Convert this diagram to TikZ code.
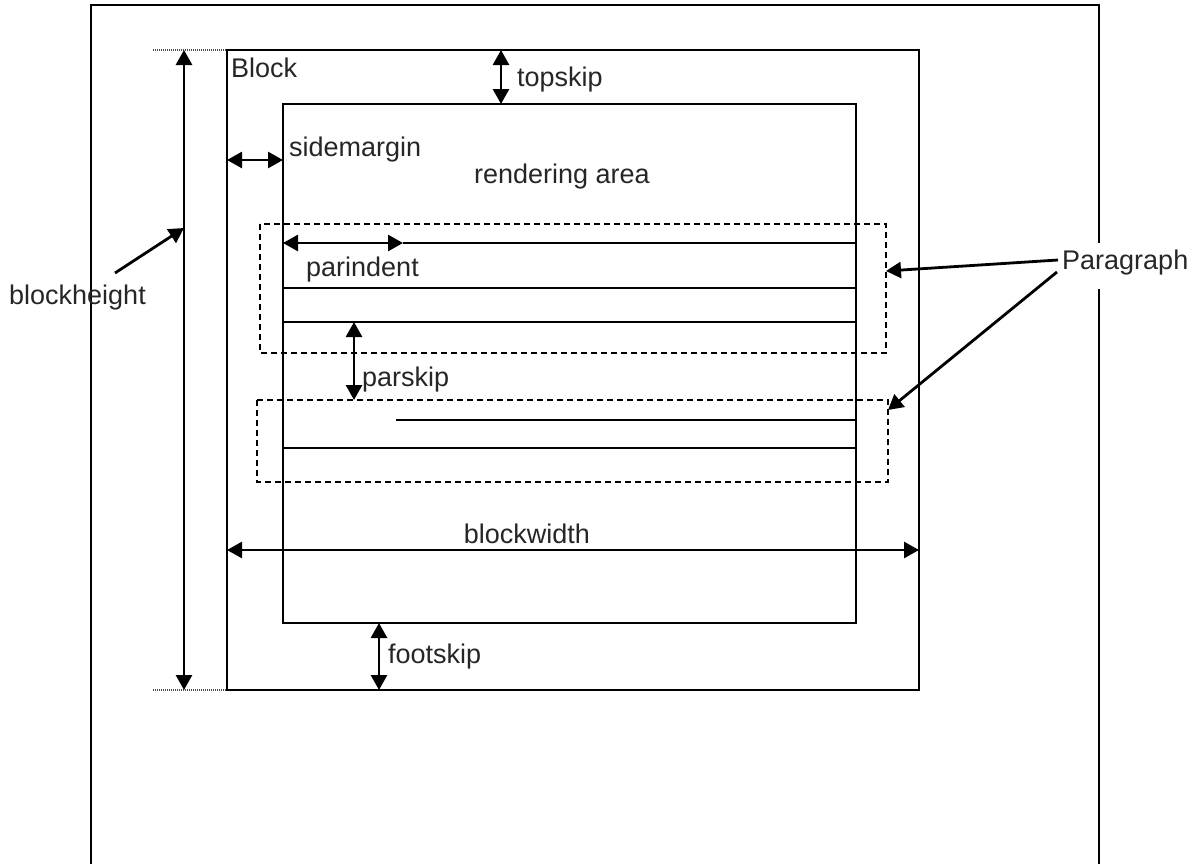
\documentclass[tikz,border=0pt]{standalone}
\usepackage{fontspec}
\setmainfont{Liberation Sans}
\usetikzlibrary{arrows.meta}
\begin{document}
\begin{tikzpicture}[x=1pt,y=-1pt,
  page/.style={line width=2.2pt},
  frame/.style={line width=1.8pt},
  textline/.style={line width=1.8pt},
  dim/.style={line width=2.8pt,{Triangle[length=15pt,width=16pt]}-{Triangle[length=15pt,width=16pt]}},
  ptr/.style={line width=2.8pt,-{Triangle[length=15pt,width=16pt]}},
  parbox/.style={line width=1.8pt,dash pattern=on 6pt off 4pt},
  guide/.style={line width=1.2pt,black!70,dash pattern=on 1pt off 1pt},
  lbl/.style={font=\fontsize{27}{31}\selectfont,inner sep=0pt,text=black!85}]
\useasboundingbox (0,0) rectangle (1195,863);

% page outline (runs off the bottom, broken by the Paragraph label)
\coordinate (pgBL) at (91,870);
\coordinate (pgTL) at (91,5);
\coordinate (pgTR) at (1099,5);
\coordinate (pgRgapTop) at (1099,243);
\coordinate (pgRgapBot) at (1099,289);
\coordinate (pgBR) at (1099,870);
\draw[page] (pgBL) -- (pgTL) -- (pgTR) -- (pgRgapTop);
\draw[page] (pgRgapBot) -- (pgBR);

% block and rendering area
\coordinate (blkTL) at (227,50);
\coordinate (blkBR) at (919,690);
\coordinate (rndTL) at (283,104);
\coordinate (rndBR) at (856,623);
\draw[frame] (blkTL) rectangle (blkBR);
\draw[frame] (rndTL) rectangle (rndBR);

% guide lines for the block height
\coordinate (gTop) at (153,50);
\coordinate (gBot) at (153,690);
\coordinate (gTopEnd) at (227,50);
\coordinate (gBotEnd) at (227,690);
\draw[guide] (gTop) -- (gTopEnd);
\draw[guide] (gBot) -- (gBotEnd);

% first paragraph
\coordinate (l1a) at (403,243);
\coordinate (l1b) at (856,243);
\coordinate (l2a) at (283,288);
\coordinate (l2b) at (856,288);
\coordinate (l3a) at (283,322);
\coordinate (l3b) at (856,322);
\draw[textline] (l1a) -- (l1b);
\draw[textline] (l2a) -- (l2b);
\draw[textline] (l3a) -- (l3b);
\coordinate (p1TL) at (260,224);
\coordinate (p1BR) at (886,353);
\draw[parbox] (p1TL) rectangle (p1BR);

% second paragraph
\coordinate (l4a) at (396,420);
\coordinate (l4b) at (856,420);
\coordinate (l5a) at (283,448);
\coordinate (l5b) at (856,448);
\draw[textline] (l4a) -- (l4b);
\draw[textline] (l5a) -- (l5b);
\coordinate (p2TL) at (257,400);
\coordinate (p2BR) at (888,482);
\draw[parbox] (p2TL) rectangle (p2BR);

% dimension arrows
\coordinate (bhTop) at (184,50);
\coordinate (bhBot) at (184,690);
\draw[dim] (bhTop) -- (bhBot);

\coordinate (tsTop) at (501,50);
\coordinate (tsBot) at (501,104);
\draw[dim] (tsTop) -- (tsBot);

\coordinate (smL) at (227,160);
\coordinate (smR) at (283,160);
\draw[dim] (smL) -- (smR);

\coordinate (piL) at (283,243);
\draw[dim] (piL) -- (l1a);

\coordinate (psTop) at (354,322);
\coordinate (psBot) at (354,400);
\draw[dim] (psTop) -- (psBot);

\coordinate (bwL) at (227,550);
\coordinate (bwR) at (919,550);
\draw[dim] (bwL) -- (bwR);

\coordinate (fsTop) at (379,623);
\coordinate (fsBot) at (379,690);
\draw[dim] (fsTop) -- (fsBot);

% labels
\node[lbl,anchor=base west] (tBlock) at (231,77) {Block};
\node[lbl,anchor=base west] (tTop) at (517,86) {topskip};
\node[lbl,anchor=base west] (tSide) at (289,156) {sidemargin};
\node[lbl,anchor=base] (tRender) at (562,183) {rendering area};
\node[lbl,anchor=base west] (tParind) at (306,276) {parindent};
\node[lbl,anchor=base west] (tParskip) at (362,386) {parskip};
\node[lbl,anchor=base] (tWidth) at (527,543) {blockwidth};
\node[lbl,anchor=base west] (tFoot) at (388,663) {footskip};
\node[lbl,anchor=base west] (tHeight) at (9,304) {blockheight};
\node[lbl,anchor=base west] (tPara) at (1062,269) {Paragraph};

% pointers
\coordinate (bhFrom) at (115,273);
\coordinate (bhTo) at (184,228);
\draw[ptr] (bhFrom) -- (bhTo);

\coordinate (paFrom1) at (1058,260);
\coordinate (paTo1) at (886,271);
\draw[ptr] (paFrom1) -- (paTo1);
\coordinate (paFrom2) at (1057,272);
\coordinate (paTo2) at (888,410);
\draw[ptr] (paFrom2) -- (paTo2);
\end{tikzpicture}
\end{document}
